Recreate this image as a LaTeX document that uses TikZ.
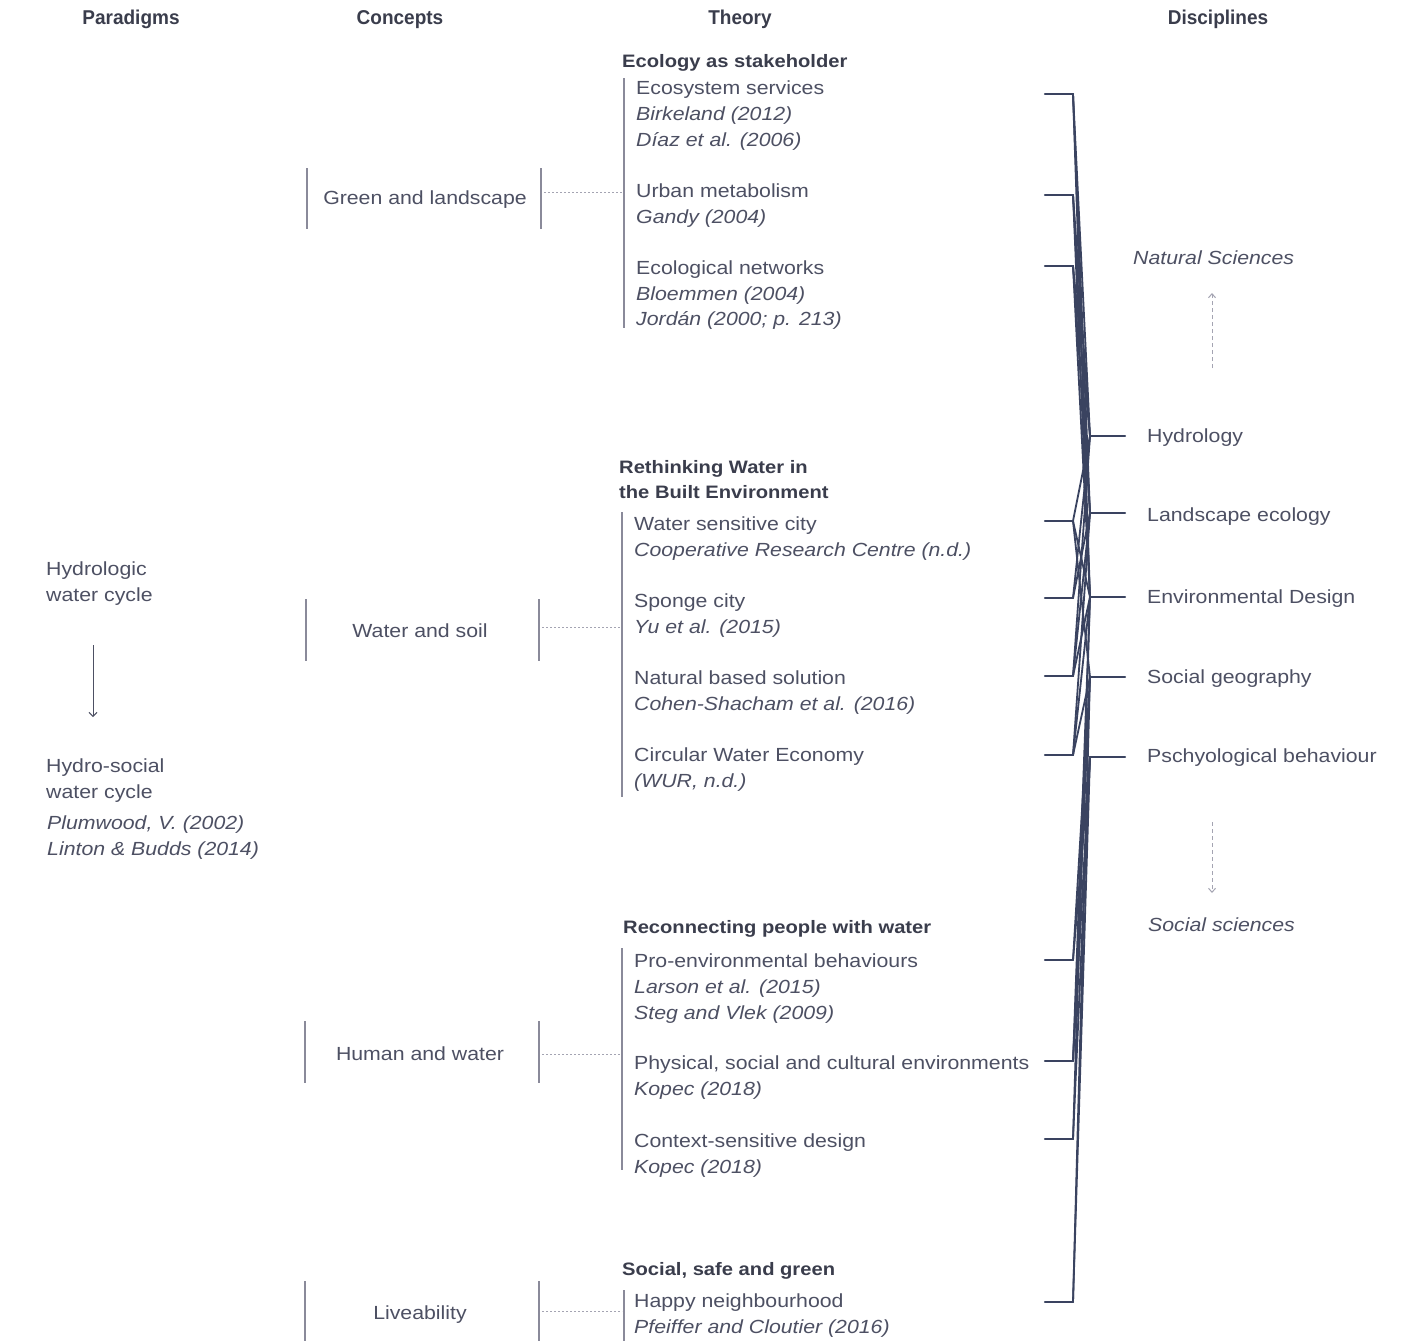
\documentclass[tikz,border=0pt]{standalone}
\usepackage{fontspec}
\setmainfont{Liberation Sans}[FakeStretch=1.12]
\newfontfamily\headfont{Liberation Sans}[FakeStretch=0.95]
\usetikzlibrary{arrows.meta}
\definecolor{headc}{HTML}{3A3D4C}
\definecolor{bodyc}{HTML}{4D5063}
\definecolor{barc}{HTML}{8A8A9A}
\definecolor{dotc}{HTML}{A4A4B2}
\definecolor{linkc}{HTML}{3A4360}
\tikzset{
  colhead/.style={font=\headfont\fontsize{20}{22}\selectfont\bfseries, text=headc, inner sep=0pt, anchor=base},
  grouphead/.style={font=\fontsize{18}{20}\selectfont\bfseries, text=headc, inner sep=0pt, anchor=base west},
  txt/.style={font=\fontsize{19}{21}\selectfont, text=bodyc, inner sep=0pt, anchor=base west},
  ref/.style={font=\fontsize{19}{21}\selectfont\itshape, text=bodyc, inner sep=0pt, anchor=base west},
  concept/.style={font=\fontsize{19}{21}\selectfont, text=bodyc, inner sep=0pt, anchor=base},
  bar/.style={draw=barc, line width=2.3pt},
  dotlink/.style={draw=dotc, line width=1pt, dash pattern=on 2pt off 2pt},
  link/.style={draw=linkc, line width=2.2pt, line cap=round, line join=round},
  tie/.style={draw=linkc, line width=1.8pt, line cap=round},
  scalearrow/.style={draw=dotc, line width=1pt, dash pattern=on 4pt off 3pt, -{Straight Barb[length=4pt,width=7pt]}}
}
\begin{document}
\begin{tikzpicture}[x=1pt,y=-1pt]
\useasboundingbox[fill=white] (0,0) rectangle (1414,1341);

% column headings
\node[colhead] (hpar) at (131,24) {Paradigms};
\node[colhead] (hcon) at (400,24) {Concepts};
\node[colhead] (hthe) at (740,24) {Theory};
\node[colhead] (hdis) at (1218,24) {Disciplines};

% paradigms
\node[txt] (p1a) at (46,575) {Hydrologic};
\node[txt] (p1b) at (46,601) {water cycle};
\coordinate (parA) at (93,645);
\coordinate (parB) at (93,717);
\draw[draw=bodyc, line width=1pt, -{Straight Barb[length=4pt,width=8pt]}] (parA) -- (parB);
\node[txt] (p2a) at (46,772) {Hydro-social};
\node[txt] (p2b) at (46,798) {water cycle};
\node[ref] (p2c) at (47,829) {Plumwood, V. (2002)};
\node[ref] (p2d) at (47,855) {Linton \& Budds (2014)};

% concepts with their bracket bars and dotted links to the theory blocks
\node[concept] (c1) at (425,204) {Green and landscape};
\draw[bar] (307,168) -- (307,229);
\draw[bar] (541,168) -- (541,229);
\draw[dotlink] (544,192) -- (622,192);

\node[concept] (c2) at (420,637) {Water and soil};
\draw[bar] (306,599) -- (306,661);
\draw[bar] (539,599) -- (539,661);
\draw[dotlink] (542,627) -- (620,627);

\node[concept] (c3) at (420,1060) {Human and water};
\draw[bar] (305,1021) -- (305,1083);
\draw[bar] (539,1021) -- (539,1083);
\draw[dotlink] (542,1054) -- (620,1054);

\node[concept] (c4) at (420,1319) {Liveability};
\draw[bar] (305,1281) -- (305,1341);
\draw[bar] (539,1281) -- (539,1341);
\draw[dotlink] (542,1311) -- (622,1311);

% theory block 1
\node[grouphead] (g1) at (622,67) {Ecology as stakeholder};
\draw[bar] (624,78) -- (624,328);
\node[txt] (t1a) at (636,94) {Ecosystem services};
\node[ref] (t1b) at (636,120) {Birkeland (2012)};
\node[ref] (t1c) at (636,146) {Díaz et al. (2006)};
\node[txt] (t2a) at (636,197) {Urban metabolism};
\node[ref] (t2b) at (636,223) {Gandy (2004)};
\node[txt] (t3a) at (636,274) {Ecological networks};
\node[ref] (t3b) at (636,300) {Bloemmen (2004)};
\node[ref] (t3c) at (636,325) {Jordán (2000; p. 213)};

% theory block 2
\node[grouphead] (g2a) at (619,473) {Rethinking Water in};
\node[grouphead] (g2b) at (619,498) {the Built Environment};
\draw[bar] (622,512) -- (622,797);
\node[txt] (t4a) at (634,530) {Water sensitive city};
\node[ref] (t4b) at (634,556) {Cooperative Research Centre (n.d.)};
\node[txt] (t5a) at (634,607) {Sponge city};
\node[ref] (t5b) at (634,633) {Yu et al. (2015)};
\node[txt] (t6a) at (634,684) {Natural based solution};
\node[ref] (t6b) at (634,710) {Cohen-Shacham et al. (2016)};
\node[txt] (t7a) at (634,761) {Circular Water Economy};
\node[ref] (t7b) at (634,787) {(WUR, n.d.)};

% theory block 3
\node[grouphead] (g3) at (623,933) {Reconnecting people with water};
\draw[bar] (622,948) -- (622,1170);
\node[txt] (t8a) at (634,967) {Pro-environmental behaviours};
\node[ref] (t8b) at (634,993) {Larson et al. (2015)};
\node[ref] (t8c) at (634,1019) {Steg and Vlek (2009)};
\node[txt] (t9a) at (634,1069) {Physical, social and cultural environments};
\node[ref] (t9b) at (634,1095) {Kopec (2018)};
\node[txt] (t10a) at (634,1147) {Context-sensitive design};
\node[ref] (t10b) at (634,1173) {Kopec (2018)};

% theory block 4
\node[grouphead] (g4) at (622,1275) {Social, safe and green};
\draw[bar] (624,1290) -- (624,1341);
\node[txt] (t11a) at (634,1307) {Happy neighbourhood};
\node[ref] (t11b) at (634,1333) {Pfeiffer and Cloutier (2016)};

% disciplines
\node[ref] (dnat) at (1133,264) {Natural Sciences};
\node[txt] (dhyd) at (1147,442) {Hydrology};
\node[txt] (dlan) at (1147,521) {Landscape ecology};
\node[txt] (denv) at (1147,603) {Environmental Design};
\node[txt] (dsoc) at (1147,683) {Social geography};
\node[txt] (dpsy) at (1147,762) {Pschyological behaviour};
\node[ref] (dsci) at (1148,931) {Social sciences};
\coordinate (upA) at (1212,368);
\coordinate (upB) at (1212,293);
\coordinate (dnA) at (1212,822);
\coordinate (dnB) at (1212,893);
\draw[scalearrow] (upA) -- (upB);
\draw[scalearrow] (dnA) -- (dnB);

% theory stubs: outer end and joint
\foreach \n/\y in {es/94, um/195, en/266, wsc/521, sc/598, nbs/676, cwe/755, peb/960, psc/1061, csd/1139, hn/1302}{
  \coordinate (\n L) at (1045,\y);
  \coordinate (\n R) at (1073,\y);
}
% discipline stubs: joint and outer end
\foreach \n/\y in {hyd/436, lan/513, env/597, soc/677, psy/757}{
  \coordinate (\n J) at (1090,\y);
  \coordinate (\n E) at (1125,\y);
}

\foreach \n in {es, um, en, wsc, sc, nbs, cwe, peb, psc, csd, hn}{
  \draw[link] (\n L) -- (\n R);
}
\foreach \n in {hyd, lan, env, soc, psy}{
  \draw[link] (\n J) -- (\n E);
}

% links between theories and disciplines
\foreach \a/\b in {es/hyd, es/lan, es/env,
                   um/hyd, um/lan, um/env,
                   en/hyd, en/lan, en/env,
                   wsc/hyd, wsc/env, wsc/soc,
                   sc/hyd, sc/lan,
                   nbs/hyd, nbs/lan, nbs/env,
                   cwe/lan, cwe/env, cwe/soc,
                   peb/soc, peb/psy,
                   psc/env, psc/soc, psc/psy,
                   csd/env, csd/psy,
                   hn/soc, hn/psy}{
  \draw[tie] (\a R) -- (\b J);
}
\end{tikzpicture}
\end{document}
